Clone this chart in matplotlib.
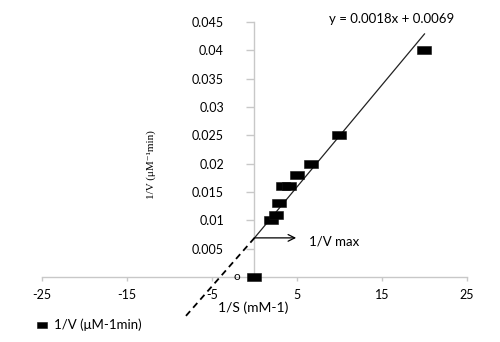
import matplotlib
matplotlib.use("Agg")
import matplotlib.pyplot as plt
from matplotlib.path import Path

# ---- data ----
inv_s = [0, 2.0, 2.5, 2.9, 3.35, 4.05, 5.0, 6.7, 10.0, 20.0]
inv_v = [0, 0.010, 0.011, 0.013, 0.016, 0.016, 0.018, 0.020, 0.025, 0.040]
slope = 0.0018
intercept = 0.0069
fit_x = [0, 20]
ext_x = [0, -8.2]
ext_y = [0.0069, -0.0071]
x_ticks = [-25, -15, -5, 5, 15, 25]
y_ticks = [0.005, 0.01, 0.015, 0.02, 0.025, 0.03, 0.035, 0.04, 0.045]
y_tick_labels = ["0.005", "0.01", "0.015", "0.02", "0.025", "0.03", "0.035", "0.04", "0.045"]

plt.rcParams['font.family'] = ['Lato', 'DejaVu Sans']

fig = plt.figure(figsize=(5.0, 3.42), dpi=100)
ax = fig.add_axes([0.084, 0.0576, 0.85, 0.878])
ax.set_xlim(-25, 25)
ax.set_ylim(-0.008, 0.045)

rect = Path([(-1, -0.65), (1, -0.65), (1, 0.65), (-1, 0.65), (-1, -0.65)],
            [Path.MOVETO, Path.LINETO, Path.LINETO, Path.LINETO, Path.CLOSEPOLY])

# trendline
fy = [slope * x + intercept for x in fit_x]
ax.plot(fit_x, fy, color='#222222', lw=0.9, zorder=2)
# dashed extrapolation
ax.plot(ext_x, ext_y, color='black', lw=1.3, ls=(0, (3.5, 2.5)), clip_on=False, zorder=2)

pts, = ax.plot(inv_s, inv_v, ls='none', marker=rect, ms=9.8, color='black',
               mec='#111111', mew=0.4, zorder=3, clip_on=False, label='1/V (μM-1min)')

# spines
for s in ['top', 'right']:
    ax.spines[s].set_visible(False)
ax.spines['left'].set_position(('data', 0))
ax.spines['bottom'].set_position(('data', 0))
ax.spines['left'].set_bounds(0, 0.045)
ax.spines['bottom'].set_bounds(-25, 25)
for s in ['left', 'bottom']:
    ax.spines[s].set_color('#c8c8c8')
    ax.spines[s].set_linewidth(1.0)
    ax.spines[s].set_zorder(1)

ax.set_xticks(x_ticks)
ax.set_xticklabels([str(t) for t in x_ticks])
ax.set_yticks(y_ticks)
ax.set_yticklabels(y_tick_labels)
ax.tick_params(axis='y', direction='out', length=6, width=1, color='#c8c8c8',
               pad=16, labelsize=9, labelcolor='black')
ax.tick_params(axis='x', direction='out', length=3, width=1, color='#c8c8c8',
               pad=6, labelsize=9, labelcolor='black')

# zero label
ax.text(-2.1, 0, 'o', ha='center', va='center', fontsize=8.5)

# labels
ax.text(-0.2, -0.0054, '1/S (mM-1)', ha='center', va='center', fontsize=10)
ax.text(-12.1, 0.0198, '1/V (μM⁻¹min)', ha='center', va='center', rotation=90,
        fontsize=8, family=['Liberation Serif', 'DejaVu Serif'])
ax.text(16.1, 0.0456, 'y = 0.0018x + 0.0069', ha='center', va='center', fontsize=9.5)

# arrow
ax.annotate('', xy=(4.9, intercept), xytext=(0, intercept),
            arrowprops=dict(arrowstyle='->', color='black', lw=0.9,
                            mutation_scale=12, shrinkA=0, shrinkB=0))
ax.text(6.4, 0.0063, '1/V max', ha='left', va='center', fontsize=9.5)

fig.legend(handles=[pts], loc='center left', bbox_to_anchor=(0.073, 0.05),
           frameon=False, fontsize=9.5, markerscale=0.68, handlelength=0.8,
           handletextpad=0.5, borderpad=0, borderaxespad=0)

fig.savefig('out.png', dpi=100)
